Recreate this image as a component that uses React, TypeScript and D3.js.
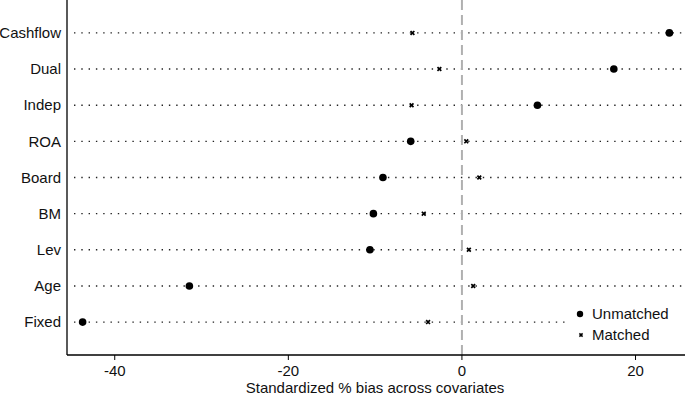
import * as d3 from "d3"
import React from "react"

const covariates = ["Cashflow", "Dual", "Indep", "ROA", "Board", "BM", "Lev", "Age", "Fixed"]
const unmatched = [23.9, 17.5, 8.7, -5.9, -9.1, -10.2, -10.6, -31.4, -43.7]
const matched = [-5.7, -2.6, -5.8, 0.5, 2.0, -4.4, 0.8, 1.3, -3.9]
const xTickValues = [-40, -20, 0, 20]

export default function App() {
  const W = 685, H = 396
  const left = 67, right = 685, top = 0, bottom = 355
  const x = d3.scaleLinear().domain([-45.5, 25.7]).range([left, right])
  const y = d3.scalePoint<string>().domain(covariates).range([top, bottom]).padding(0.91)
  const font = "'Liberation Sans', Arial, sans-serif"
  const cross = (cx: number, cy: number, s: number) =>
    `M${cx - s},${cy - s}L${cx + s},${cy + s}M${cx - s},${cy + s}L${cx + s},${cy - s}`

  return (
    <svg width={W} height={H} style={{ position: "absolute", left: 0, top: 0 }} fontFamily={font}>
      <rect width={W} height={H} fill="#fff" />
      {covariates.map((c) => {
        const yy = y(c)!
        const x2 = c === "Fixed" ? 568 : 684
        return (
          <g key={c}>
            <line x1={left + 7} x2={x2} y1={yy} y2={yy} stroke="#222" strokeWidth={1.4}
              strokeDasharray="1.4 5.9" />
            <text x={left - 6} y={yy} dy="0.35em" textAnchor="end" fontSize={15} fill="#111">{c}</text>
          </g>
        )
      })}
      <line x1={x(0)} x2={x(0)} y1={top} y2={bottom} stroke="#b0b0b0" strokeWidth={2}
        strokeDasharray="10 5" />
      {covariates.map((c, i) => (
        <g key={c + "m"}>
          <path d={cross(x(matched[i]), y(c)!, 1.9)} stroke="#000" strokeWidth={1.7} />
          <circle cx={x(unmatched[i])} cy={y(c)!} r={3.8} fill="#000" />
        </g>
      ))}
      <line x1={left} x2={left} y1={top} y2={bottom} stroke="#000" strokeWidth={1.3} />
      <line x1={left} x2={right} y1={bottom} y2={bottom} stroke="#000" strokeWidth={1.3} />
      {xTickValues.map(t => (
        <g key={t} transform={`translate(${x(t)},${bottom})`}>
          <line y1={0} y2={5} stroke="#000" strokeWidth={1} />
          <text y={21} textAnchor="middle" fontSize={15} fill="#111">{t}</text>
        </g>
      ))}
      <text x={375} y={393} textAnchor="middle" fontSize={15} fill="#111">
        Standardized % bias across covariates
      </text>
      <circle cx={580} cy={314} r={3.2} fill="#000" />
      <text x={592} y={314} dy="0.35em" fontSize={15} fill="#111">Unmatched</text>
      <path d={cross(581, 335, 1.6)} stroke="#000" strokeWidth={1.5} />
      <text x={592} y={335} dy="0.35em" fontSize={15} fill="#111">Matched</text>
    </svg>
  )
}
